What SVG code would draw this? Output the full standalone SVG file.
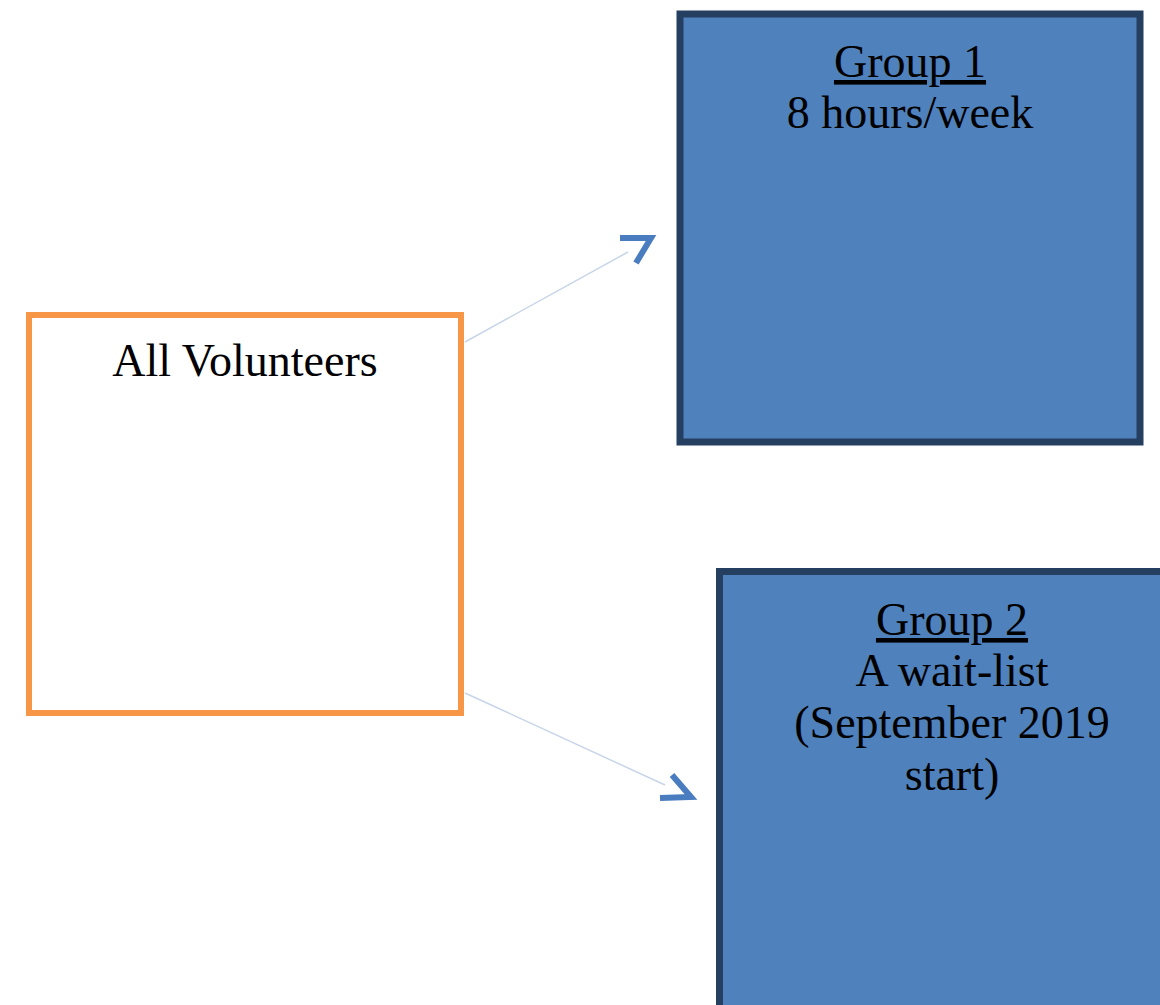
<svg xmlns="http://www.w3.org/2000/svg" width="1160" height="1005" viewBox="0 0 1160 1005">
<style>
.t{font-family:"Liberation Serif","Times New Roman",serif;font-size:46px;fill:#000;text-anchor:middle}
.u{text-decoration:underline}
.grp{fill:#4f81bd;stroke:#243f60;stroke-width:7}
.conn{stroke:#c8d5e8;stroke-width:1.5;fill:none}
.head{stroke:#4a7dbf;stroke-width:6;fill:none;stroke-linejoin:miter}
</style>
<rect width="1160" height="1005" fill="#fff"/>
<g id="connectors">
<line class="conn" x1="465" y1="342" x2="628" y2="252"/>
<polyline class="head" points="620,238 651,238 636,263"/>
<line class="conn" x1="465" y1="693" x2="665" y2="785"/>
<polyline class="head" points="672,775 691,797 660,798"/>
</g>
<g id="all-volunteers">
<rect x="29" y="315" width="432" height="398" fill="#fff" stroke="#f79646" stroke-width="6"/>
<text class="t" x="245" y="376">All Volunteers</text>
</g>
<g id="group1">
<rect class="grp" x="680" y="14" width="460" height="428"/>
<text class="t u" x="910" y="77">Group 1</text>
<text class="t" x="910" y="128">8 hours/week</text>
</g>
<g id="group2">
<rect class="grp" x="719.5" y="571.5" width="460" height="450"/>
<text class="t u" x="952" y="635">Group 2</text>
<text class="t" x="952" y="686">A wait-list</text>
<text class="t" x="952" y="738">(September 2019</text>
<text class="t" x="952" y="790">start)</text>
</g>
</svg>
